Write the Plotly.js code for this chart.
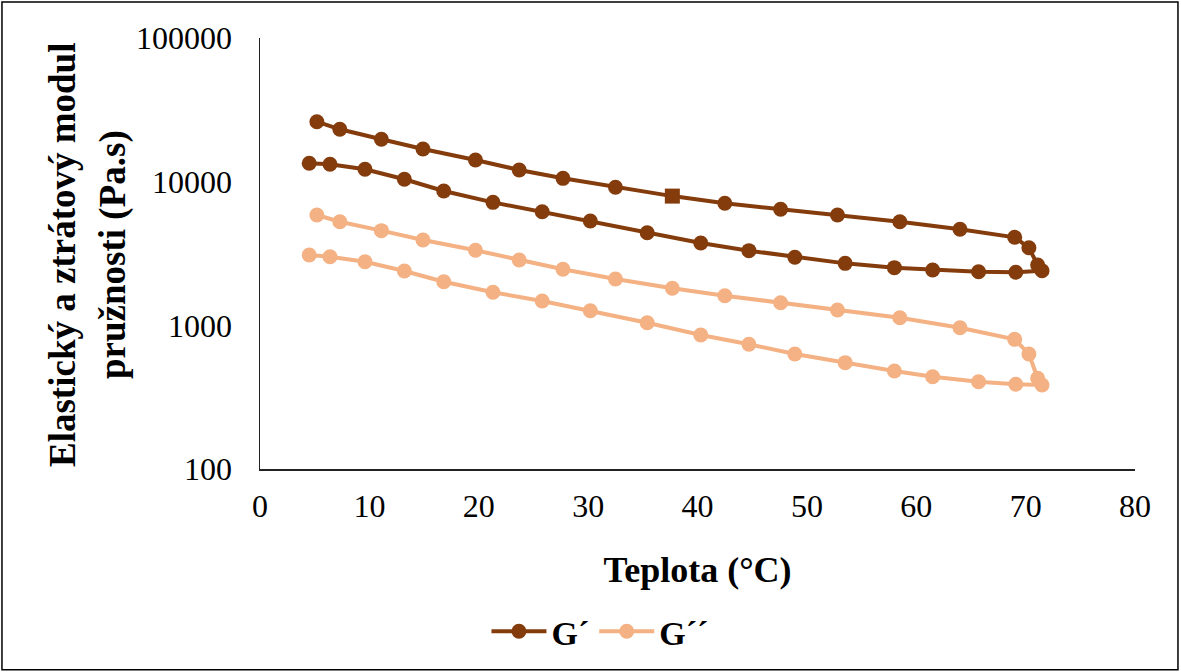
<!DOCTYPE html>
<html>
<head>
<meta charset="utf-8">
<script src="https://cdn.plot.ly/plotly-3.0.1.min.js"></script>
<style>html,body{margin:0;padding:0;background:#fff;}#chart{width:1181px;height:672px;}</style>
</head>
<body>
<div id="chart"></div>
<script>
// Temperature (°C): heating branch then cooling branch
var teplota = [5.2, 7.3, 11.1, 14.9, 19.7, 23.7, 27.7, 32.5, 37.7, 42.5, 47.6, 52.8, 58.5, 64.0, 69.0, 70.3, 71.1, 71.5,
               69.1, 65.7, 61.5, 58.0, 53.5, 48.9, 44.7, 40.3, 35.4, 30.2, 25.8, 21.3, 16.8, 13.2, 9.6, 6.4, 4.5];
// Elastic modulus G´
var gPrime = [26150, 23150, 19720, 16880, 14160, 12060, 10550, 9140, 7935, 7070, 6420, 5860, 5265, 4660, 4100, 3470, 2630, 2400,
              2340, 2360, 2430, 2520, 2700, 2980, 3310, 3740, 4410, 5320, 6180, 7180, 8610, 10390, 12200, 13210, 13420];
// Loss modulus G´´
var gDouble = [5860, 5265, 4560, 3930, 3330, 2850, 2455, 2100, 1810, 1608, 1437, 1279, 1130, 963, 799, 632, 428, 384,
               389, 405, 439, 481, 550, 632, 738, 857, 1043, 1264, 1477, 1698, 2012, 2389, 2773, 3004, 3087];
var seriesNames = ['G\u00b4', 'G\u00b4\u00b4'];
var yTickVals = [100, 1000, 10000, 100000];
var yTickText = ['100', '1000', '10000', '100000'];
var xTitle = 'Teplota (°C)';
var yTitleLines = ['Elastický a ztrátový modul', 'pružnosti (Pa.s)'];
var squareIndex = 8; // one marker drawn as square in G´

var symbolsG1 = teplota.map(function(_, i){ return i === squareIndex ? 'square' : 'circle'; });

var traces = [
  {x: teplota, y: gPrime, name: seriesNames[0], type: 'scatter', mode: 'lines+markers',
   line: {color: '#843C0C', width: 4}, marker: {color: '#843C0C', size: 15, symbol: symbolsG1}},
  {x: teplota, y: gDouble, name: seriesNames[1], type: 'scatter', mode: 'lines+markers',
   line: {color: '#F4B183', width: 4}, marker: {color: '#F4B183', size: 15, symbol: 'circle'}}
];

var font = "'Liberation Serif', 'Times New Roman', serif";
var layout = {
  width: 1181, height: 672,
  margin: {l: 260, r: 46, t: 38, b: 203},
  paper_bgcolor: '#fff', plot_bgcolor: '#fff',
  font: {family: font, color: '#000', size: 32},
  showlegend: true,
  legend: {orientation: 'h', xref: 'container', yref: 'container', x: 0.508, y: 0.06, xanchor: 'center', yanchor: 'middle',
           font: {family: font, size: 34, color: '#000', weight: 'bold'}, itemwidth: 55, traceorder: 'normal'},
  xaxis: {
    range: [0, 80], dtick: 10, tick0: 0, showgrid: false, zeroline: false,
    showline: true, linecolor: '#222', linewidth: 1.5, ticks: '', ticklabelstandoff: 8,
    tickfont: {family: font, size: 32, color: '#000'},
    title: {text: '<b>' + xTitle + '</b>', font: {family: font, size: 36, color: '#000'}, standoff: 34}
  },
  yaxis: {
    type: 'log', range: [2, 5], tickmode: 'array', tickvals: yTickVals, ticktext: yTickText,
    showgrid: false, zeroline: false,
    showline: true, linecolor: '#222', linewidth: 1.5, ticks: '', ticklabelstandoff: 20,
    tickfont: {family: font, size: 32, color: '#000'}
  },
  annotations: [
    {text: '<b>' + yTitleLines[0] + '</b>', textangle: -90, xref: 'paper', yref: 'paper',
     x: -0.2263, y: 0.4965, xanchor: 'center', yanchor: 'middle', showarrow: false,
     font: {family: font, size: 37, color: '#000'}},
    {text: '<b>' + yTitleLines[1] + '</b>', textangle: -90, xref: 'paper', yref: 'paper',
     x: -0.168, y: 0.4965, xanchor: 'center', yanchor: 'middle', showarrow: false,
     font: {family: font, size: 37, color: '#000'}}
  ],
  shapes: [{type: 'rect', xref: 'paper', yref: 'paper', x0: -0.2949, x1: 1.0491, y0: -0.466, y1: 1.0835,
            line: {color: '#000', width: 1.5}, fillcolor: 'rgba(0,0,0,0)', layer: 'below'}]
};

Plotly.newPlot('chart', traces, layout, {displayModeBar: false, staticPlot: true});
</script>
</body>
</html>
